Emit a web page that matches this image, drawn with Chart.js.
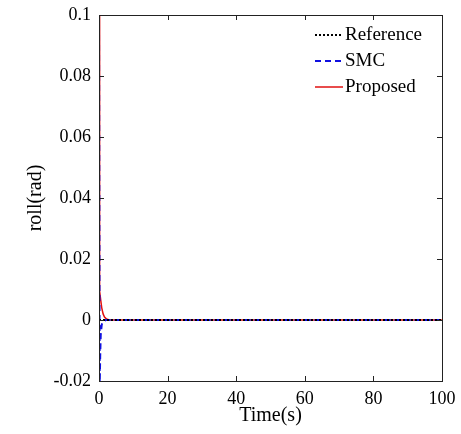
<!DOCTYPE html>
<html>
<head>
<meta charset="utf-8">
<script src="https://cdn.jsdelivr.net/npm/chart.js@4.4.1/dist/chart.umd.min.js"></script>
<style>
  html, body { margin: 0; padding: 0; background: #fff; }
  #wrap { width: 461px; height: 434px; }
</style>
</head>
<body>
<div id="wrap"><canvas id="roll"></canvas></div>
<script>
// roll angle response, time in seconds
var refTime = [0, 100]
var refRoll = [0, 0]

var smcTime = [0, 0.1, 0.2, 0.35, 0.5, 0.8, 1.2, 2, 100]
var smcRoll = [0.1, 0.04, -0.022, -0.012, -0.005, -0.0015, -0.0004, 0, 0]

var propTime = [0, 0.1, 0.25, 0.5, 0.8, 1.2, 1.6, 2.2, 3, 100]
var propRoll = [0.1, 0.011, 0.0095, 0.0065, 0.004, 0.002, 0.001, 0.0003, 0, 0]

var xTicks = [0, 20, 40, 60, 80, 100]
var yTicks = [-0.02, 0, 0.02, 0.04, 0.06, 0.08, 0.1]

function pts(t, v) {
    return t.map(function (x, i) { return { x: x, y: v[i] } })
}

var serif = "'Liberation Serif', 'Times New Roman', serif"

// MATLAB style box: inward ticks on all four sides
var boxTicks = {
    id: 'boxTicks',
    afterDraw: function (chart) {
        var c = chart.ctx, a = chart.chartArea
        var xs = chart.scales.x, ys = chart.scales.y
        c.save()
        c.strokeStyle = '#222'
        c.lineWidth = 1
        c.strokeRect(a.left + 0.5, a.top + 0.5, a.right - a.left, a.bottom - a.top)
        c.beginPath()
        xTicks.forEach(function (v) {
            var px = Math.round(xs.getPixelForValue(v)) + 0.5
            c.moveTo(px, a.bottom); c.lineTo(px, a.bottom - 5)
            c.moveTo(px, a.top); c.lineTo(px, a.top + 5)
        })
        yTicks.forEach(function (v) {
            var py = Math.round(ys.getPixelForValue(v)) + 0.5
            c.moveTo(a.left, py); c.lineTo(a.left + 5, py)
            c.moveTo(a.right, py); c.lineTo(a.right - 5, py)
        })
        c.stroke()
        c.restore()
    }
}

// legend drawn inside the plot, top right
var innerLegend = {
    id: 'innerLegend',
    afterDraw: function (chart) {
        var c = chart.ctx
        c.save()
        c.font = '19px ' + serif
        c.textBaseline = 'middle'
        c.fillStyle = '#000'
        chart.data.datasets.forEach(function (ds, i) {
            var y = 35 + i * 26
            c.beginPath()
            c.strokeStyle = ds.borderColor
            c.lineWidth = ds.borderWidth
            c.setLineDash(ds.borderDash || [])
            c.moveTo(315, y); c.lineTo(343, y)
            c.stroke()
            c.setLineDash([])
            c.fillText(ds.label, 345, y)
        })
        c.restore()
    }
}

new Chart(document.getElementById('roll'), {
    type: 'line',
    data: {
        datasets: [{
            label: 'Reference',
            data: pts(refTime, refRoll),
            borderColor: '#000',
            borderWidth: 2,
            borderDash: [2, 2]
        }, {
            label: 'SMC',
            data: pts(smcTime, smcRoll),
            borderColor: '#1010e0',
            borderWidth: 2,
            borderDash: [6, 4]
        }, {
            label: 'Proposed',
            data: pts(propTime, propRoll),
            borderColor: '#e01010',
            borderWidth: 1.5
        }]
    },
    plugins: [boxTicks, innerLegend],
    options: {
        responsive: true,
        maintainAspectRatio: false,
        animation: false,
        layout: { padding: { top: 15, right: 19, left: 0, bottom: 0 } },
        elements: { point: { radius: 0 }, line: { tension: 0 } },
        plugins: {
            legend: { display: false },
            tooltip: { enabled: false }
        },
        scales: {
            x: {
                type: 'linear',
                min: 0,
                max: 100,
                afterBuildTicks: function (s) { s.ticks = xTicks.map(function (v) { return { value: v } }) },
                afterFit: function (s) { s.height = 53; s.paddingLeft = 0; s.paddingRight = 0 },
                grid: { display: false, drawTicks: false },
                border: { display: false },
                ticks: { color: '#000', font: { family: serif, size: 18 }, padding: 7, maxRotation: 0 },
                title: { display: true, text: 'Time(s)', color: '#000', font: { family: serif, size: 20 }, padding: { top: 0, bottom: 6 } }
            },
            y: {
                type: 'linear',
                min: -0.02,
                max: 0.1,
                afterBuildTicks: function (s) { s.ticks = yTicks.map(function (v) { return { value: v } }) },
                afterFit: function (s) { s.width = 99; s.paddingTop = 0; s.paddingBottom = 0 },
                grid: { display: false, drawTicks: false },
                border: { display: false },
                ticks: {
                    color: '#000', font: { family: serif, size: 18 }, padding: 8,
                    callback: function (v) { return String(v) }
                },
                title: { display: true, text: 'roll(rad)', color: '#000', font: { family: serif, size: 20 }, padding: { top: 24, bottom: 0 } }
            }
        }
    }
})
</script>
</body>
</html>
